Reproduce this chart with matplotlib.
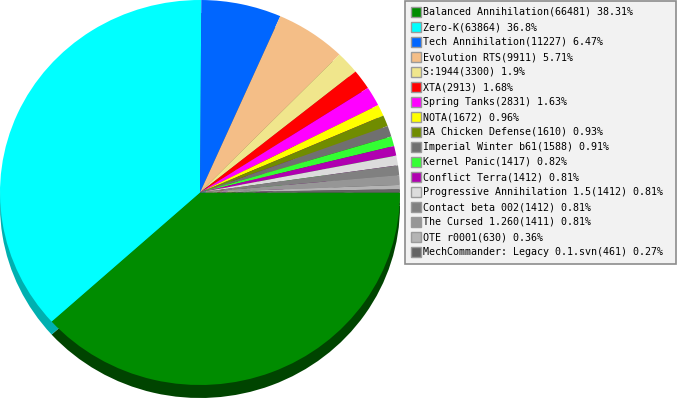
import matplotlib
matplotlib.use("Agg")
import matplotlib.pyplot as plt
from matplotlib.patches import Rectangle
import numpy as np

names = ["Balanced Annihilation", "Zero-K", "Tech Annihilation", "Evolution RTS",
         "S:1944", "XTA", "Spring Tanks", "NOTA", "BA Chicken Defense",
         "Imperial Winter b61", "Kernel Panic", "Conflict Terra",
         "Progressive Annihilation 1.5", "Contact beta 002", "The Cursed 1.260",
         "OTE r0001", "MechCommander: Legacy 0.1.svn"]
counts = [66481, 63864, 11227, 9911, 3300, 2913, 2831, 1672, 1610,
          1588, 1417, 1412, 1412, 1412, 1411, 630, 461]
percents = ["38.31", "36.8", "6.47", "5.71", "1.9", "1.68", "1.63", "0.96", "0.93",
            "0.91", "0.82", "0.81", "0.81", "0.81", "0.81", "0.36", "0.27"]
colors = ["#008c00", "#00ffff", "#0066ff", "#f4be87", "#f0e68c", "#ff0000",
          "#ff00ff", "#ffff00", "#708c00", "#707070", "#33ff33", "#b000b0",
          "#dcdcdc", "#808080", "#969696", "#b4b4b4", "#646464"]

# side colours of the 3d rim
side_colors = []
for c in colors:
    r, g, b = matplotlib.colors.to_rgb(c)
    side_colors.append((r * 0.5, g * 0.5, b * 0.5))
side_colors[0] = "#004400"
side_colors[1] = "#00b0b0"

W, H = 677, 400
fig = plt.figure(figsize=(W / 100, H / 100), dpi=100)

# pie area in pixels: x 0..400, top face y 0..385, rim 13px
cx, cy, rx, ry, depth = 200, 192.5, 200, 192.5, 13
ax = fig.add_axes([(cx - rx) / W, 1 - (cy + ry) / H, 2 * rx / W, 2 * ry / H])
ax.pie(counts, colors=side_colors, startangle=0, counterclock=False,
       radius=1, center=(0, -depth / ry), wedgeprops=dict(linewidth=0))
ax.pie(counts, colors=colors, startangle=0, counterclock=False,
       radius=1, center=(0, 0), wedgeprops=dict(linewidth=0))
ax.set_xlim(-1, 1)
ax.set_ylim(-1, 1)
ax.set_aspect("auto")
ax.axis("off")

# legend drawn in pixel coordinates
lax = fig.add_axes([0, 0, 1, 1], facecolor="none")
lax.set_xlim(0, W)
lax.set_ylim(H, 0)
lax.axis("off")
lax.add_patch(Rectangle((404.5, 0.5), 271.5, 263.5, facecolor="#f2f2f2",
                        edgecolor="#8c8c8c", linewidth=1.2))
for i, (n, c, p, col) in enumerate(zip(names, counts, percents, colors)):
    y = 12 + 15 * i
    lax.add_patch(Rectangle((410.5, y - 5), 10, 10, facecolor=col,
                            edgecolor="#9a9a9a", linewidth=1))
    lax.text(423, y, f"{n}({c}) {p}%", fontsize=7.2, family="DejaVu Sans Mono",
             va="center", ha="left", color="black")

fig.savefig("out.png", dpi=100)
